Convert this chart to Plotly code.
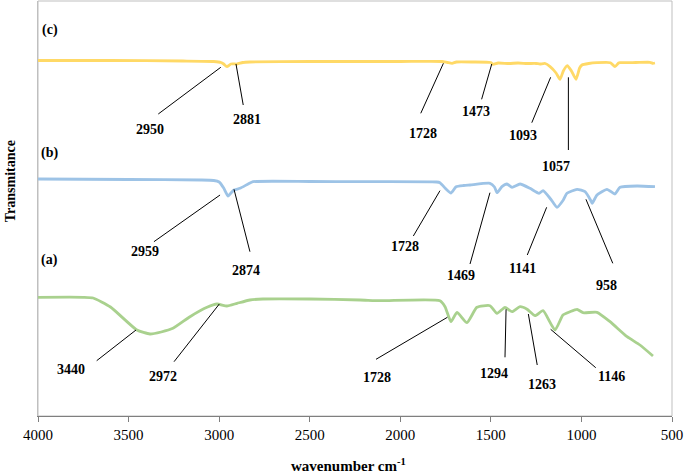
import plotly.graph_objects as go

# ---------------- data ----------------
# (c) yellow spectrum
wn_c = [4000, 3600, 3200, 3030, 2990, 2975, 2957, 2935, 2901, 2870, 2830, 2500, 2000, 1770,
        1740, 1714, 1690, 1600, 1500, 1488, 1460, 1400, 1350, 1300, 1250, 1229, 1200, 1173,
        1140, 1118, 1100, 1078, 1055, 1030, 1010, 997, 960, 914, 840, 815, 795, 787, 700,
        622, 605, 594]
t_c = [355.5, 355.5, 355, 354.5, 353.5, 352, 349.3, 352, 352, 353.5, 354, 354.5, 354.5, 354.5,
       353.5, 352.7, 354, 354, 353.5, 351.7, 353, 352.5, 353, 352.5, 352.5, 352, 352.5, 349.3,
       343, 336.7, 345, 350.3, 345, 336.7, 348, 351, 352.5, 353.3, 353.3, 349.3, 353, 353.3, 353.5,
       353.7, 352.7, 353]

# (b) blue spectrum
wn_b = [4000, 3500, 3100, 3030, 3000, 2975, 2951, 2935, 2918, 2885, 2840, 2813, 2500, 2220,
        1800, 1781, 1753, 1720, 1692, 1650, 1615, 1505, 1480, 1466, 1439, 1411, 1383, 1339,
        1284, 1234, 1212, 1170, 1135, 1100, 1080, 1024, 980, 950, 941, 914, 859, 815, 787,
        693, 594]
t_b = [237, 236.5, 236, 235.5, 234, 228, 220, 223, 226, 227.7, 232, 234.3, 234.5, 234.3,
       234, 233.3, 228, 223, 229.3, 230.5, 231, 232.7, 229, 223.3, 229.3, 232, 228.7, 232,
       227.7, 222.7, 225.3, 217, 208.7, 216, 222.7, 226.7, 224.3, 216, 212.7, 221, 226.7, 222, 228.7,
       230, 229.3]

# (a) green spectrum
wn_a = [4000, 3750, 3696, 3600, 3454, 3382, 3320, 3255, 3161, 3067, 3012, 2957, 2901, 2830,
        2758, 2500, 2222, 2112, 1781, 1753, 1720, 1687, 1632, 1577, 1505, 1466, 1422, 1383,
        1339, 1300, 1256, 1212, 1146, 1102, 1063, 1024, 991, 914, 842, 748, 677, 605]
t_a = [118.7, 118.7, 118, 109, 86, 82, 84, 87.7, 99.3, 108.7, 112, 110, 112.7, 116,
       117, 117, 116, 115.3, 115.3, 109.3, 94.3, 103.7, 93.3, 108.7, 110.3, 102.7, 108.7, 104.3,
       109.3, 106.7, 100.3, 105.3, 86, 101, 104.3, 106.7, 103.3, 103.7, 94.3, 79.3, 71, 60]

x_ticks = [4000, 3500, 3000, 2500, 2000, 1500, 1000, 500]

# peak labels: text, tip (wn, t), leader end (wn, t), label centre (wn, t)
peak_text = ["2950", "2881", "1728", "1473", "1093", "1057",
             "2959", "2874", "1728", "1469", "1141", "958",
             "3440", "2972", "1728", "1294", "1263", "1146"]
tip_wn = [2991, 2907, 1762, 1495, 1170, 1072,
          2995, 2918, 1781, 1505, 1192, 975,
          3459, 2999, 1740, 1416, 1293, 1170]
tip_t = [348.7, 352, 352.7, 352, 338.7, 338.7,
         221, 226.7, 225.3, 223.3, 208.7, 216.7,
         86, 112, 98.7, 106.7, 102, 86.7]
end_wn = [3336, 2867, 1887, 1551, 1274, 1072,
          3360, 2830, 1928, 1615, 1299, 827,
          3676, 3249, 2134, 1422, 1244, 921]
end_t = [302, 311, 302.7, 316.7, 293.3, 266,
         174.3, 164.3, 180, 152, 161, 152.7,
         55.3, 54.3, 56.7, 58.7, 51, 48.3]
lab_wn = [3382, 2848, 1873, 1584, 1324, 1140,
          3409, 2853, 1974, 1665, 1324, 860,
          3820, 3308, 2127, 1481, 1219, 833]
lab_t = [286.7, 297, 282.7, 304.3, 280.3, 250,
         164.3, 146, 169.3, 140.7, 147.7, 131,
         46.7, 39.3, 38.7, 42.7, 31.7, 39.3]

panel_labels = ["(c)", "(b)", "(a)"]
panel_t = [386, 263, 156]

# ---------------- figure ----------------
FONT = "Liberation Serif"
fig = go.Figure()
for wn, t, col in [(wn_c, t_c, "#FFD966"), (wn_b, t_b, "#9DC3E6"), (wn_a, t_a, "#A9D18E")]:
    fig.add_trace(go.Scatter(x=wn, y=t, mode="lines",
                             line=dict(color=col, width=2.8, shape="spline", smoothing=0.5),
                             hoverinfo="skip", showlegend=False))

shapes = [dict(type="rect", xref="paper", yref="paper", x0=0, x1=1, y0=0, y1=1,
               line=dict(color="#BFBFBF", width=1), layer="below")]
for i in range(len(peak_text)):
    shapes.append(dict(type="line", xref="x", yref="y", x0=tip_wn[i], y0=tip_t[i],
                       x1=end_wn[i], y1=end_t[i], line=dict(color="#000000", width=1)))

annotations = []
for i in range(len(peak_text)):
    annotations.append(dict(x=lab_wn[i], y=lab_t[i], xref="x", yref="y", text="<b>%s</b>" % peak_text[i],
                            showarrow=False, font=dict(family=FONT, size=14, color="#000"),
                            xanchor="center", yanchor="middle"))
for lab, t in zip(panel_labels, panel_t):
    annotations.append(dict(x=3934, y=t, xref="x", yref="y", text="<b>%s</b>" % lab,
                            showarrow=False, font=dict(family=FONT, size=14, color="#000"),
                            xanchor="center", yanchor="middle"))
annotations.append(dict(x=0.4905, y=-0.118, xref="paper", yref="paper",
                        text="<b>wavenumber cm<sup>-1</sup></b>", showarrow=False,
                        font=dict(family=FONT, size=15, color="#000"),
                        xanchor="center", yanchor="middle"))
annotations.append(dict(x=-0.044, y=0.566, xref="paper", yref="paper",
                        text="<b>Transmitance</b>", showarrow=False, textangle=-90,
                        font=dict(family=FONT, size=14, color="#000"),
                        xanchor="center", yanchor="middle"))

fig.update_layout(
    width=685, height=475,
    margin=dict(l=38, r=13, t=1, b=59),
    font=dict(family=FONT, size=15, color="#000"),
    paper_bgcolor="white", plot_bgcolor="white",
    xaxis=dict(range=[4000, 500], tickvals=x_ticks, ticktext=[str(v) for v in x_ticks],
               showgrid=False, zeroline=False, showline=True, linecolor="#7F7F7F", linewidth=1,
               ticks="outside", ticklen=5, tickcolor="#7F7F7F",
               tickfont=dict(family=FONT, size=15, color="#000")),
    yaxis=dict(range=[0, 415], showgrid=False, zeroline=False, showticklabels=False,
               showline=True, linecolor="#BFBFBF", linewidth=1, ticks=""),
    shapes=shapes, annotations=annotations,
)
fig.write_html("out.html", config={"displayModeBar": False},
               post_script="document.body.style.margin='0';document.body.style.overflow='hidden';")
